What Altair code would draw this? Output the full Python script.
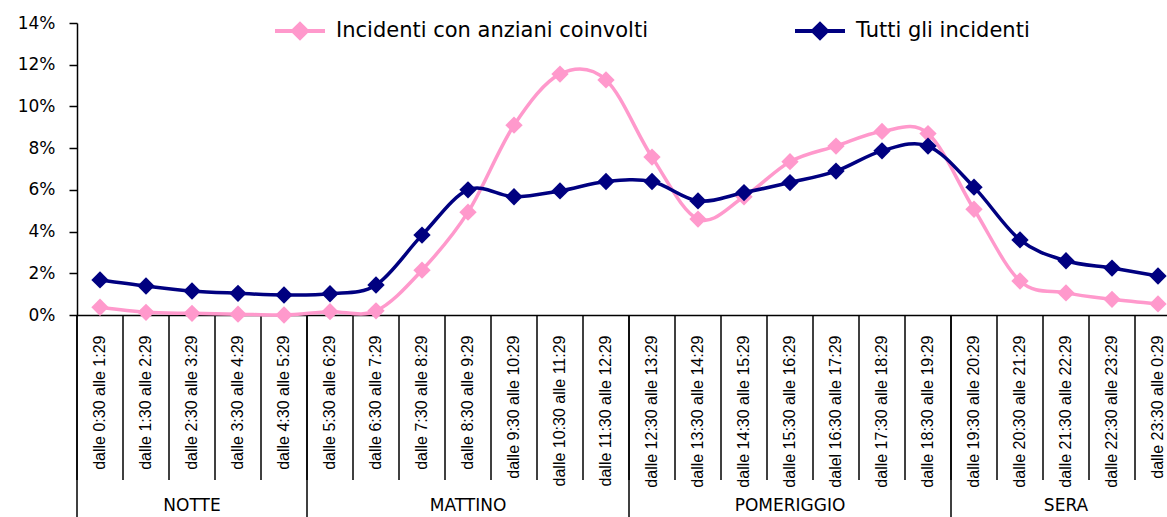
import altair as alt
import pandas as pd

categories = [
    "dalle 0:30 alle 1:29", "dalle 1:30 alle 2:29", "dalle 2:30 alle 3:29",
    "dalle 3:30 alle 4:29", "dalle 4:30 alle 5:29", "dalle 5:30 alle 6:29",
    "dalle 6:30 alle 7:29", "dalle 7:30 alle 8:29", "dalle 8:30 alle 9:29",
    "dalle 9:30 alle 10:29", "dalle 10:30 alle 11:29", "dalle 11:30 alle 12:29",
    "dalle 12:30 alle 13:29", "dalle 13:30 alle 14:29", "dalle 14:30 alle 15:29",
    "dalle 15:30 alle 16:29", "dalel 16:30 alle 17:29", "dalle 17:30 alle 18:29",
    "dalle 18:30 alle 19:29", "dalle 19:30 alle 20:29", "dalle 20:30 alle 21:29",
    "dalle 21:30 alle 22:29", "dalle 22:30 alle 23:29", "dalle 23:30 alle 0:29",
]

group_names = ["NOTTE", "MATTINO", "POMERIGGIO", "SERA"]
group_first = [0, 5, 12, 19]     # index of first category of each group
group_center = [2, 8, 15, 21]    # index of middle category of each group

series_names = ["Incidenti con anziani coinvolti", "Tutti gli incidenti"]
series_colors = ["#FF99CC", "#000080"]

anziani = [0.37, 0.13, 0.08, 0.04, 0.0, 0.16, 0.2, 2.15, 4.93, 9.1, 11.55, 11.27,
           7.57, 4.6, 5.67, 7.35, 8.1, 8.8, 8.7, 5.07, 1.63, 1.06, 0.75, 0.53]
tutti = [1.68, 1.39, 1.15, 1.04, 0.96, 1.02, 1.44, 3.83, 6.0, 5.67, 5.95, 6.4,
         6.4, 5.47, 5.87, 6.35, 6.9, 7.87, 8.1, 6.13, 3.6, 2.6, 2.25, 1.87]

y_ticks = [0, 0.02, 0.04, 0.06, 0.08, 0.10, 0.12, 0.14]

# ---- tables built from the arrays ----
rows = []
for name, vals in zip(series_names, [anziani, tutti]):
    for c, v in zip(categories, vals):
        rows.append({"series": name, "cat": c, "value": v / 100})
df = pd.DataFrame(rows)
div_df = pd.DataFrame({"cat": categories})
grp_df = pd.DataFrame({
    "name": group_names,
    "first": [categories[i] for i in group_first],
    "center": [categories[i] for i in group_center],
})

FONT_CAT = "Liberation Sans"
FONT_MAIN = "DejaVu Sans"

x_scale = alt.Scale(type="band", domain=categories, range=[0, 1104],
                    paddingInner=0, paddingOuter=0)
x_axis = alt.Axis(title=None, labelAngle=-90, labelFont=FONT_CAT, labelFontSize=16,
                  labelColor="black", labelPadding=20, ticks=False, labelOverlap=False,
                  labelLimit=300, domainColor="black", domainWidth=1.5, grid=False)
y_scale = alt.Scale(domain=[0, 0.14], nice=False)
y_axis = alt.Axis(title=None, values=y_ticks, format=".0%", labelFont=FONT_MAIN,
                  labelFontSize=17, labelColor="black", tickSize=8, tickColor="black",
                  tickWidth=1.5, labelPadding=14, domainColor="black", domainWidth=1.5,
                  grid=False)

color_scale = alt.Scale(domain=series_names, range=series_colors)


def make_legend():
    return alt.Legend(
        title=None, orient="none", legendX=196, legendY=-19, direction="horizontal",
        symbolType="M-1,0H1M-0.28,0L0,-0.28L0.28,0L0,0.28Z", symbolSize=2500,
        symbolStrokeWidth=4, labelFont=FONT_MAIN, labelFontSize=21, labelColor="black",
        labelOffset=9, columnPadding=138, padding=0, labelLimit=500, symbolOpacity=1,
    )


X = alt.X("cat:N", scale=x_scale, axis=x_axis, bandPosition=0.5)
Y = alt.Y("value:Q", scale=y_scale, axis=y_axis)
S = alt.Stroke("series:N", scale=color_scale, legend=make_legend())
F = alt.Fill("series:N", scale=color_scale, legend=make_legend())

layers = []
for name in series_names:
    base = alt.Chart(df).transform_filter(alt.datum.series == name)
    layers.append(base.mark_line(interpolate="cardinal", tension=0, strokeWidth=3.5)
                  .encode(x=X, y=Y, stroke=S))
    layers.append(base.mark_point(shape="diamond", filled=True, size=300, opacity=1,
                                  strokeWidth=0)
                  .encode(x=X, y=Y, fill=F))

dividers = alt.Chart(div_df).mark_rule(color="black", strokeWidth=1.5).encode(
    x=alt.X("cat:N", scale=x_scale, axis=x_axis, bandPosition=0),
    y=alt.value(292), y2=alt.value(457))
group_sep = alt.Chart(grp_df).mark_rule(color="black", strokeWidth=1.5).encode(
    x=alt.X("first:N", scale=x_scale, axis=x_axis, bandPosition=0),
    y=alt.value(292), y2=alt.value(520))
group_txt = alt.Chart(grp_df).mark_text(font=FONT_MAIN, fontSize=17, color="black",
                                        baseline="middle").encode(
    x=alt.X("center:N", scale=x_scale, axis=x_axis, bandPosition=0.5),
    y=alt.value(483), text="name:N")

chart = alt.layer(dividers, group_sep, group_txt, *layers).properties(
    width=1090, height=292,
    padding={"left": 77, "top": 23, "right": 0, "bottom": 202},
    autosize=alt.AutoSizeParams(type="none"),
    background="white",
).configure_view(stroke=None)

chart.save("out.html", embed_options={"renderer": "svg", "actions": False})
